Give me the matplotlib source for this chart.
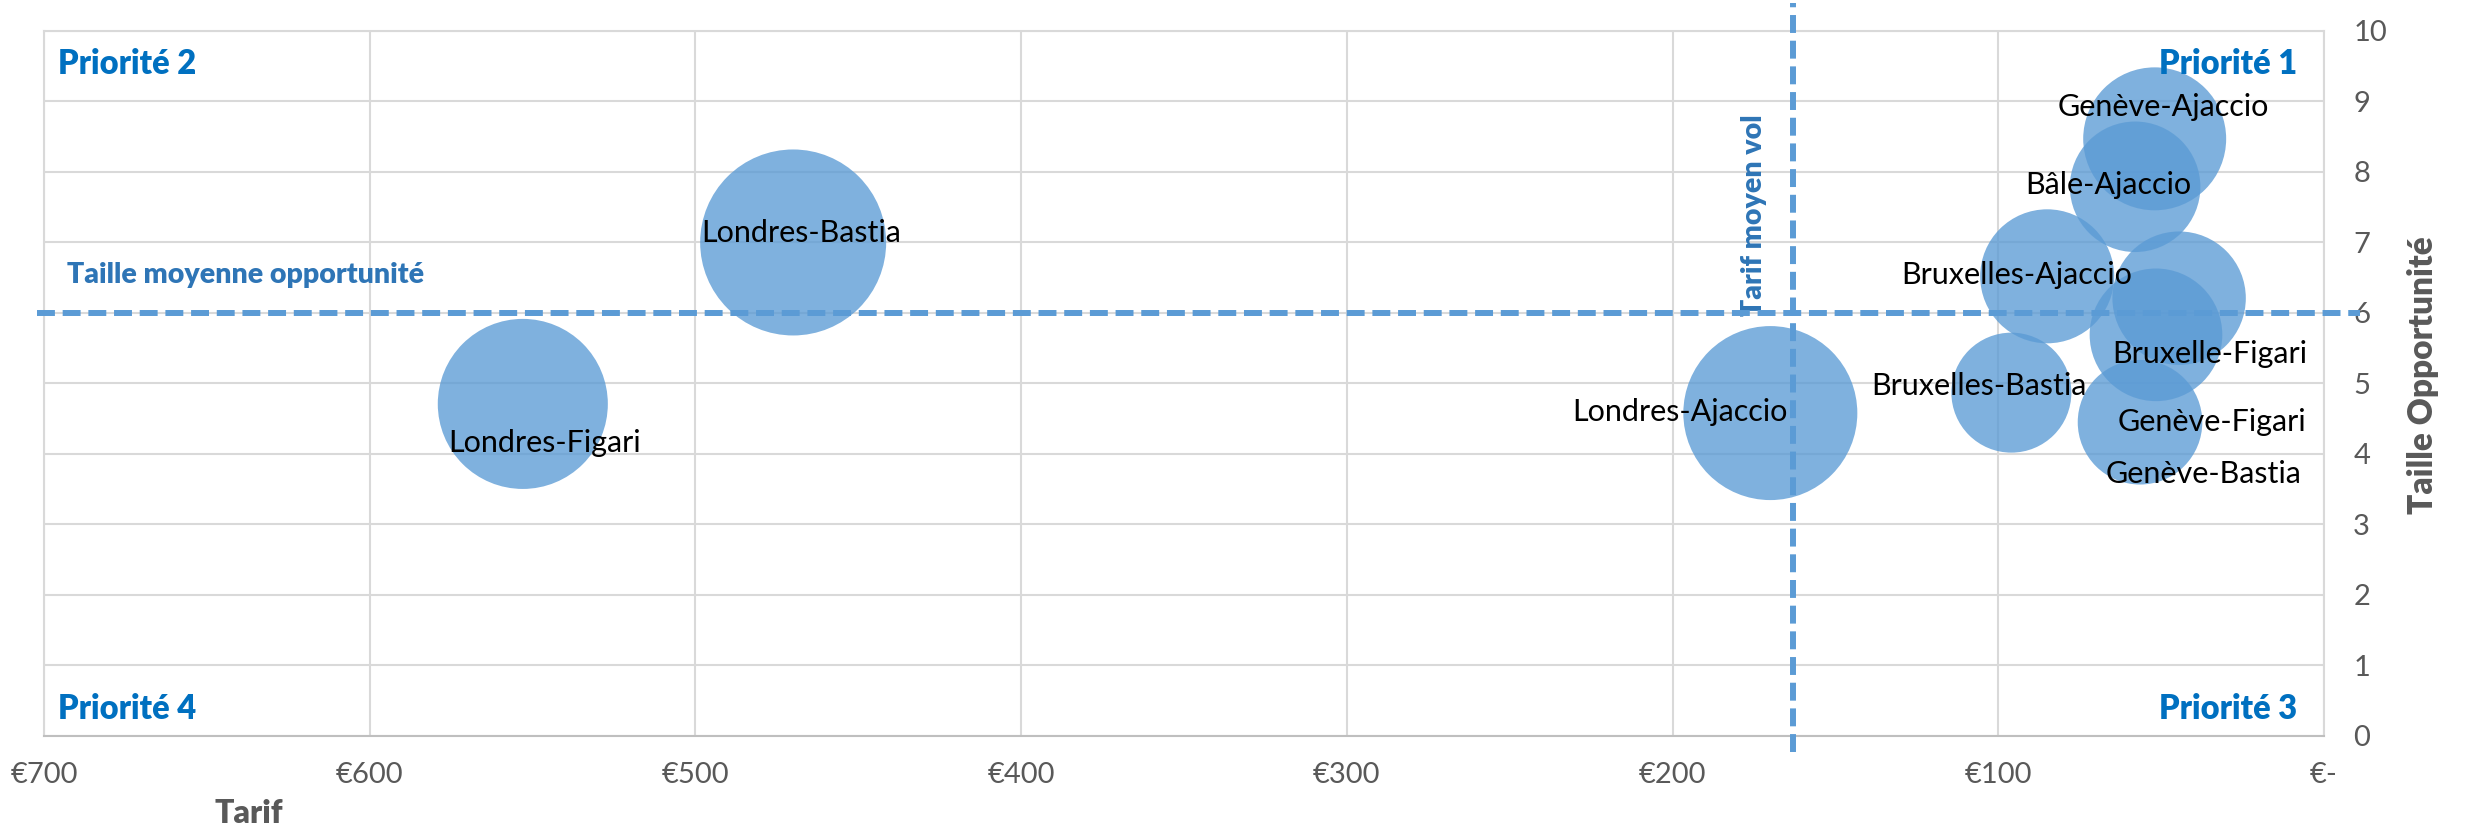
import matplotlib
matplotlib.use("Agg")
import matplotlib.pyplot as plt

plt.rcParams['font.family'] = ['Lato', 'DejaVu Sans']

# data
routes = ["Londres-Bastia", "Londres-Figari", "Londres-Ajaccio", "Bruxelles-Bastia",
          "Bruxelles-Ajaccio", "Genève-Ajaccio", "Bâle-Ajaccio", "Bruxelle-Figari",
          "Genève-Figari", "Genève-Bastia"]
tarif = [470, 553, 170, 96, 85, 52, 58, 44.5, 51.6, 56.5]
taille = [7.0, 4.71, 4.58, 4.87, 6.52, 8.47, 7.79, 6.21, 5.69, 4.45]
volume = [86.5, 72.3, 75.7, 36.0, 44.9, 51.1, 42.6, 44.5, 44.0, 38.8]

tarif_moyen = 163
taille_moyenne = 6.0

x_ticks = [700, 600, 500, 400, 300, 200, 100, 0]
x_tick_labels = ["€700", "€600", "€500", "€400", "€300", "€200", "€100", "€-"]
y_ticks = list(range(0, 11))

# label offsets (points) from bubble centre
label_offsets = [(6, 7), (16, -28), (-65, 1), (-23, 5), (-22, 1), (6, 23), (-19, 1),
                 (22, -40), (40, -63), (46, -37)]

blue = "#5B9BD5"
dark_blue = "#2E75B6"
prio_blue = "#0070C0"
grey = "#595959"

fig = plt.figure(figsize=(24.66, 8.26), dpi=100)
ax = fig.add_axes([0.01784, 0.109, 0.9246, 0.8535])

# bubble area proportional to volume, largest ~93 px radius
max_s = (2 * 93 * 72 / 100) ** 2
sizes = [v / max(volume) * max_s for v in volume]
ax.scatter(tarif, taille, s=sizes, color=blue, alpha=0.78, linewidths=0, zorder=3)

for name, x, y, off in zip(routes, tarif, taille, label_offsets):
    ax.annotate(name, (x, y), xytext=off, textcoords="offset points",
                ha="center", va="center", fontsize=22, color="black", zorder=5)

# average lines
ax.plot([702, -11], [taille_moyenne, taille_moyenne], color=blue, lw=4.3,
        linestyle=(0, (3, 1.3)), clip_on=False, zorder=4)
ax.plot([tarif_moyen, tarif_moyen], [-0.23, 10.4], color=blue, lw=4.3,
        linestyle=(0, (3, 1.3)), clip_on=False, zorder=4)

ax.text(693, 6.54, "Taille moyenne opportunité", ha="left", va="center",
        fontsize=20.5, fontweight="heavy", color=dark_blue)
ax.text(175, 7.38, "Tarif moyen vol", ha="center", va="center", rotation=90,
        fontsize=20.5, fontweight="heavy", color=dark_blue)

# quadrant names
ax.text(0.006, 0.953, "Priorité 2", transform=ax.transAxes, ha="left", va="center",
        fontsize=23.5, fontweight="heavy", color=prio_blue)
ax.text(0.988, 0.953, "Priorité 1", transform=ax.transAxes, ha="right", va="center",
        fontsize=23.5, fontweight="heavy", color=prio_blue)
ax.text(0.006, 0.038, "Priorité 4", transform=ax.transAxes, ha="left", va="center",
        fontsize=23.5, fontweight="heavy", color=prio_blue)
ax.text(0.988, 0.038, "Priorité 3", transform=ax.transAxes, ha="right", va="center",
        fontsize=23.5, fontweight="heavy", color=prio_blue)

ax.set_xlim(700, 0)
ax.set_ylim(0, 10)
ax.set_xticks(x_ticks)
ax.set_xticklabels(x_tick_labels)
ax.set_yticks(y_ticks)
ax.yaxis.tick_right()
ax.tick_params(axis="x", length=0, pad=19, labelsize=21, labelcolor=grey)
ax.tick_params(axis="y", length=0, pad=21, labelsize=21, labelcolor=grey)

ax.grid(True, color="#D9D9D9", lw=1.5, zorder=0)
ax.set_axisbelow(True)
for side in ["top", "left", "right"]:
    ax.spines[side].set_color("#D9D9D9")
    ax.spines[side].set_linewidth(1.5)
ax.spines["bottom"].set_color("#BFBFBF")
ax.spines["bottom"].set_linewidth(1.5)

fig.text(0.101, 0.0157, "Tarif", ha="center", va="center", fontsize=23,
         fontweight="heavy", color=grey)
fig.text(0.9826, 0.546, "Taille Opportunité", ha="center", va="center", rotation=90,
         fontsize=24, fontweight="heavy", color=grey)

fig.savefig("out.png", dpi=100)
